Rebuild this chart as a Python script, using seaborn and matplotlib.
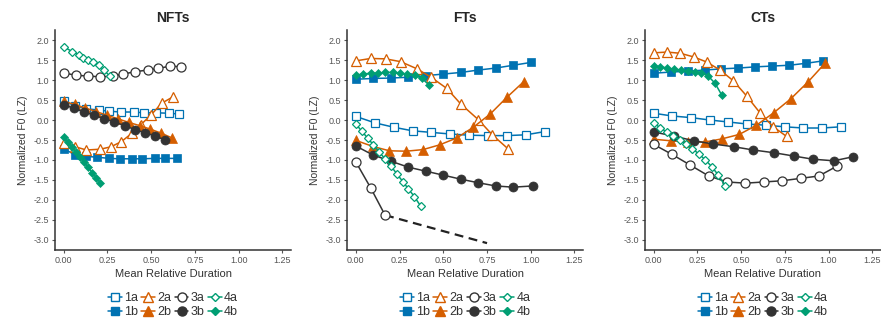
import matplotlib
matplotlib.use("Agg")
import matplotlib.pyplot as plt
import seaborn as sns
from matplotlib.lines import Line2D

# ---- data: NFTs ----
nft_1a_x = [0, 0.066, 0.13, 0.2, 0.26, 0.33, 0.4, 0.46, 0.53, 0.6, 0.66]
nft_1a_y = [0.47, 0.36, 0.28, 0.25, 0.22, 0.2, 0.2, 0.18, 0.18, 0.17, 0.15]
nft_1b_x = [0, 0.065, 0.13, 0.19, 0.26, 0.32, 0.39, 0.45, 0.52, 0.58, 0.65]
nft_1b_y = [-0.72, -0.87, -0.91, -0.93, -0.96, -0.97, -0.97, -0.97, -0.96, -0.96, -0.96]
nft_2a_x = [0, 0.066, 0.13, 0.21, 0.27, 0.33, 0.39, 0.44, 0.5, 0.56, 0.625]
nft_2a_y = [-0.57, -0.67, -0.75, -0.73, -0.67, -0.54, -0.33, -0.12, 0.13, 0.42, 0.58]
nft_2b_x = [0, 0.062, 0.124, 0.186, 0.248, 0.31, 0.372, 0.434, 0.496, 0.558, 0.62]
nft_2b_y = [0.47, 0.39, 0.3, 0.21, 0.12, 0.03, -0.06, -0.14, -0.23, -0.33, -0.45]
nft_3a_x = [0, 0.068, 0.14, 0.21, 0.28, 0.34, 0.41, 0.48, 0.54, 0.61, 0.67]
nft_3a_y = [1.18, 1.12, 1.1, 1.08, 1.1, 1.15, 1.21, 1.25, 1.29, 1.35, 1.33]
nft_3b_x = [0, 0.058, 0.116, 0.174, 0.232, 0.29, 0.348, 0.406, 0.464, 0.522, 0.58]
nft_3b_y = [0.37, 0.3, 0.2, 0.12, 0.03, -0.05, -0.14, -0.24, -0.32, -0.4, -0.5]
nft_4a_x = [0, 0.05, 0.085, 0.11, 0.14, 0.17, 0.2, 0.23, 0.265]
nft_4a_y = [1.83, 1.71, 1.63, 1.55, 1.5, 1.45, 1.37, 1.25, 1.09]
nft_4b_x = [0, 0.023, 0.046, 0.07, 0.093, 0.116, 0.14, 0.163, 0.186, 0.21]
nft_4b_y = [-0.42, -0.55, -0.68, -0.8, -0.93, -1.06, -1.18, -1.32, -1.44, -1.57]

# ---- data: FTs ----
ft_1a_x = [0, 0.108, 0.216, 0.324, 0.432, 0.54, 0.648, 0.756, 0.864, 0.972, 1.08]
ft_1a_y = [0.09, -0.07, -0.18, -0.27, -0.31, -0.35, -0.38, -0.39, -0.39, -0.37, -0.29]
ft_1b_x = [0, 0.1, 0.2, 0.3, 0.4, 0.5, 0.6, 0.7, 0.8, 0.9, 1.0]
ft_1b_y = [1.02, 1.04, 1.05, 1.07, 1.11, 1.15, 1.19, 1.25, 1.3, 1.37, 1.44]
ft_2a_x = [0, 0.085, 0.17, 0.256, 0.35, 0.43, 0.52, 0.6, 0.7, 0.78, 0.87]
ft_2a_y = [1.48, 1.54, 1.53, 1.46, 1.28, 1.07, 0.79, 0.4, 0.01, -0.37, -0.72]
ft_2b_x = [0, 0.096, 0.192, 0.288, 0.384, 0.48, 0.576, 0.672, 0.768, 0.864, 0.96]
ft_2b_y = [-0.51, -0.66, -0.77, -0.78, -0.74, -0.62, -0.45, -0.18, 0.15, 0.57, 0.96]
ft_3a_x = [0, 0.085, 0.167]
ft_3a_y = [-1.05, -1.7, -2.38]
ft_3a_ext_x = [0.167, 0.75]
ft_3a_ext_y = [-2.38, -3.08]
ft_3b_x = [0, 0.1, 0.2, 0.3, 0.4, 0.5, 0.6, 0.7, 0.8, 0.9, 1.01]
ft_3b_y = [-0.65, -0.88, -1.03, -1.18, -1.28, -1.38, -1.48, -1.57, -1.65, -1.68, -1.65]
ft_4a_x = [0, 0.034, 0.067, 0.1, 0.134, 0.168, 0.2, 0.235, 0.27, 0.3, 0.335, 0.37]
ft_4a_y = [-0.1, -0.28, -0.45, -0.62, -0.8, -0.98, -1.15, -1.35, -1.55, -1.72, -1.92, -2.15]
ft_4b_x = [0, 0.042, 0.084, 0.126, 0.168, 0.21, 0.252, 0.294, 0.336, 0.378, 0.42]
ft_4b_y = [1.12, 1.15, 1.17, 1.17, 1.19, 1.19, 1.17, 1.15, 1.12, 1.04, 0.87]

# ---- data: CTs ----
ct_1a_x = [0, 0.107, 0.214, 0.321, 0.428, 0.535, 0.642, 0.749, 0.856, 0.963, 1.07]
ct_1a_y = [0.17, 0.1, 0.06, 0.0, -0.05, -0.1, -0.13, -0.17, -0.2, -0.2, -0.17]
ct_1b_x = [0, 0.097, 0.194, 0.291, 0.388, 0.485, 0.582, 0.679, 0.776, 0.873, 0.97]
ct_1b_y = [1.17, 1.2, 1.22, 1.25, 1.28, 1.3, 1.33, 1.35, 1.37, 1.42, 1.48]
ct_2a_x = [0, 0.076, 0.152, 0.228, 0.304, 0.38, 0.456, 0.532, 0.608, 0.684, 0.76]
ct_2a_y = [1.68, 1.7, 1.67, 1.58, 1.45, 1.25, 0.98, 0.6, 0.18, -0.17, -0.41]
ct_2b_x = [0, 0.098, 0.196, 0.294, 0.392, 0.49, 0.588, 0.686, 0.784, 0.882, 0.98]
ct_2b_y = [-0.48, -0.52, -0.55, -0.55, -0.47, -0.36, -0.13, 0.18, 0.53, 0.95, 1.42]
ct_3a_x = [0, 0.105, 0.21, 0.315, 0.42, 0.525, 0.63, 0.735, 0.84, 0.945, 1.05]
ct_3a_y = [-0.61, -0.86, -1.13, -1.4, -1.55, -1.58, -1.55, -1.52, -1.46, -1.4, -1.15]
ct_3b_x = [0, 0.114, 0.23, 0.34, 0.46, 0.57, 0.69, 0.8, 0.91, 1.03, 1.14]
ct_3b_y = [-0.3, -0.4, -0.52, -0.6, -0.67, -0.75, -0.82, -0.9, -0.98, -1.02, -0.92]
ct_4a_x = [0, 0.037, 0.074, 0.111, 0.148, 0.185, 0.222, 0.259, 0.296, 0.333, 0.37, 0.41]
ct_4a_y = [-0.08, -0.19, -0.3, -0.4, -0.5, -0.6, -0.72, -0.85, -1.0, -1.17, -1.38, -1.65]
ct_4b_x = [0, 0.039, 0.078, 0.117, 0.156, 0.195, 0.234, 0.273, 0.312, 0.351, 0.39]
ct_4b_y = [1.36, 1.33, 1.3, 1.27, 1.25, 1.23, 1.21, 1.18, 1.1, 0.92, 0.62]

labels = ["1a", "1b", "2a", "2b", "3a", "3b", "4a", "4b"]
colors = {"1": "#0072B2", "2": "#D55E00", "3": "#333333", "4": "#009E73"}
markers = {"1": "s", "2": "^", "3": "o", "4": "D"}
sizes = {"1": 5.5, "2": 6.5, "3": 6.5, "4": 4.5}

panels = [
    ("NFTs", [(nft_1a_x, nft_1a_y), (nft_1b_x, nft_1b_y), (nft_2a_x, nft_2a_y), (nft_2b_x, nft_2b_y),
              (nft_3a_x, nft_3a_y), (nft_3b_x, nft_3b_y), (nft_4a_x, nft_4a_y), (nft_4b_x, nft_4b_y)], None),
    ("FTs", [(ft_1a_x, ft_1a_y), (ft_1b_x, ft_1b_y), (ft_2a_x, ft_2a_y), (ft_2b_x, ft_2b_y),
             (ft_3a_x, ft_3a_y), (ft_3b_x, ft_3b_y), (ft_4a_x, ft_4a_y), (ft_4b_x, ft_4b_y)],
     (ft_3a_ext_x, ft_3a_ext_y)),
    ("CTs", [(ct_1a_x, ct_1a_y), (ct_1b_x, ct_1b_y), (ct_2a_x, ct_2a_y), (ct_2b_x, ct_2b_y),
             (ct_3a_x, ct_3a_y), (ct_3b_x, ct_3b_y), (ct_4a_x, ct_4a_y), (ct_4b_x, ct_4b_y)], None),
]

sns.set_style("ticks")
plt.rcParams['font.family'] = ['Liberation Sans', 'DejaVu Sans']
plt.rcParams['axes.unicode_minus'] = False

fig = plt.figure(figsize=(8.81, 3.2), dpi=100)
lefts = [0.0624, 0.394, 0.732]

for (title, series, ext), left in zip(panels, lefts):
    ax = fig.add_axes([left, 0.219, 0.268, 0.687])

    # dashed continuation of the 3a curve (FTs only)
    if ext is not None:
        sns.lineplot(x=ext[0], y=ext[1], ax=ax, color="#222222", linewidth=1.6,
                     linestyle=(0, (4, 2.5)), zorder=1)

    for lab, (xs, ys) in zip(labels, series):
        grp = lab[0]
        filled = lab[1] == "b"
        c = colors[grp]
        sns.lineplot(x=xs, y=ys, ax=ax, estimator=None, sort=False, color=c,
                     linewidth=1.1, marker=markers[grp], markersize=sizes[grp],
                     markerfacecolor=c if filled else "white",
                     markeredgecolor=c, markeredgewidth=0.9 if not filled else 0.5,
                     zorder=3)

    ax.set_xlim(-0.05, 1.3)
    ax.set_ylim(-3.25, 2.25)
    ax.set_xticks([0, 0.25, 0.5, 0.75, 1.0, 1.25])
    ax.set_xticklabels(["0.00", "0.25", "0.50", "0.75", "1.00", "1.25"])
    ax.set_yticks([2.0, 1.5, 1.0, 0.5, 0.0, -0.5, -1.0, -1.5, -2.0, -2.5, -3.0])
    ax.set_yticklabels(["2.0", "1.5", "1.0", "0.5", "0.0", "-0.5", "-1.0", "-1.5", "-2.0", "-2.5", "-3.0"])
    ax.tick_params(labelsize=6.5, colors="#555555", length=2.5, width=0.8, pad=2)
    for sp in ["left", "bottom"]:
        ax.spines[sp].set_linewidth(1.1)
        ax.spines[sp].set_color("#333333")
    sns.despine(ax=ax)

    ax.set_title(title, fontsize=10, fontweight="bold", pad=6)
    ax.set_xlabel("Mean Relative Duration", fontsize=8, color="#333333", labelpad=3)
    ax.set_ylabel("Normalized F0 (LZ)", fontsize=7.5, color="#333333", labelpad=4)

    handles = []
    for lab in labels:
        grp = lab[0]
        filled = lab[1] == "b"
        c = colors[grp]
        handles.append(Line2D([0], [0], color=c, linewidth=1.1, marker=markers[grp],
                              markersize=sizes[grp],
                              markerfacecolor=c if filled else "white", markeredgecolor=c))
    ax.legend(handles, labels, loc="upper center", bbox_to_anchor=(0.5, -0.165), ncol=4,
              frameon=False, fontsize=9, handlelength=1.1, handletextpad=0.2,
              columnspacing=0.25, labelspacing=0.15, borderpad=0, labelcolor="#333333")

fig.savefig("out.png", dpi=100)
